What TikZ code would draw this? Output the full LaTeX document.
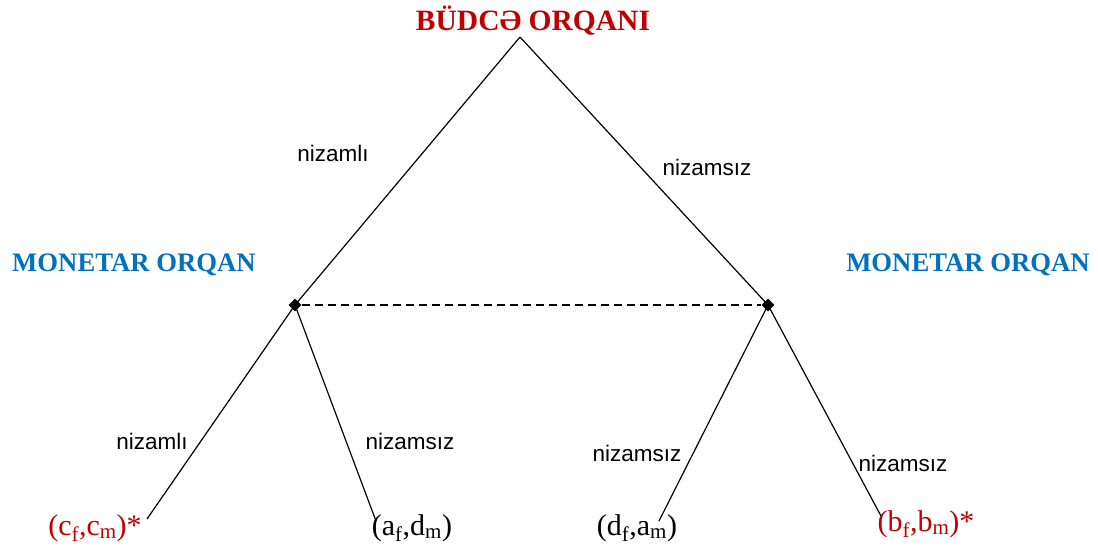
\documentclass[tikz,border=0pt]{standalone}
\usepackage{fontspec}
\setmainfont{Liberation Serif}
\newfontfamily\arialf{Liberation Sans}
\usetikzlibrary{shapes.geometric}
\definecolor{dred}{RGB}{192,0,0}
\definecolor{mblue}{RGB}{0,112,192}
\begin{document}
\begin{tikzpicture}[x=1pt,y=-1pt,
  edge/.style={line width=1.2pt},
  title/.style={text=dred,font=\fontsize{29.5}{34}\selectfont\bfseries,inner sep=0pt},
  mono/.style={text=mblue,font=\fontsize{26.7}{31}\selectfont\bfseries,inner sep=0pt},
  lbl/.style={font=\arialf\fontsize{22.5}{26}\selectfont,inner sep=0pt},
  leaf/.style={font=\fontsize{30}{34}\selectfont,inner sep=0pt},
  dot/.style={diamond,fill=black,inner sep=0pt,minimum size=13pt}]
\useasboundingbox (0,0) rectangle (1098,550);
\node[title] (t) at (533,21) {BÜDCƏ ORQANI};
\coordinate (top) at (520,37);
\node[dot] (L) at (295,305) {};
\node[dot] (R) at (768,305) {};
\node[mono] (ml) at (134,265) {MONETAR ORQAN};
\node[mono] (mr) at (968,265) {MONETAR ORQAN};
\node[leaf,text=dred] (l1) at (95,528) {(c\textsubscript{f},c\textsubscript{m})*};
\node[leaf] (l2) at (412,528) {(a\textsubscript{f},d\textsubscript{m})};
\node[leaf] (l3) at (637,528) {(d\textsubscript{f},a\textsubscript{m})};
\node[leaf,text=dred] (l4) at (926,524) {(b\textsubscript{f},b\textsubscript{m})*};
\coordinate (e1) at (147,519);
\coordinate (e2) at (376,521);
\coordinate (e3) at (659,521);
\coordinate (e4) at (881,516);
\draw[edge] (top) -- (L.center);
\draw[edge] (top) -- (R.center);
\draw[edge,dashed,dash pattern=on 8pt off 5pt,line width=1.8pt] (L) -- (R);
\draw[edge] (L.center) -- (e1);
\draw[edge] (L.center) -- (e2);
\draw[edge] (R.center) -- (e3);
\draw[edge] (R.center) -- (e4);
\node[lbl] (n1) at (333,153) {nizamlı};
\node[lbl] (n2) at (707,167) {nizamsız};
\node[lbl] (n3) at (152,441) {nizamlı};
\node[lbl] (n4) at (410,441) {nizamsız};
\node[lbl] (n5) at (637,453) {nizamsız};
\node[lbl] (n6) at (903,463) {nizamsız};
\end{tikzpicture}
\end{document}
